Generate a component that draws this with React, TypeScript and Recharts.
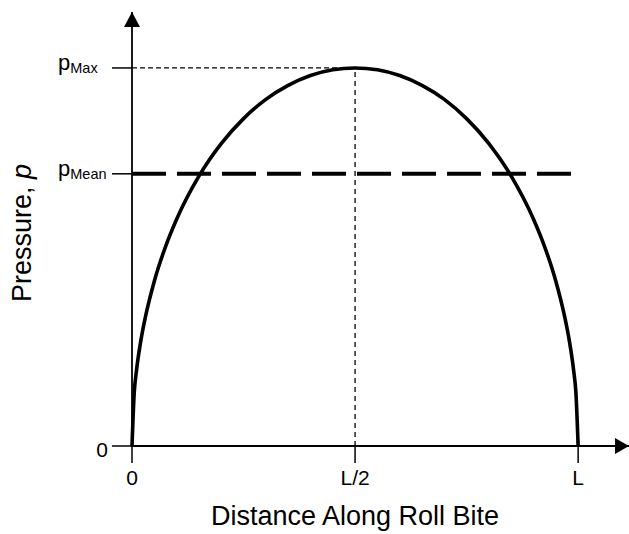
import { ComposedChart, Line, XAxis, YAxis, ReferenceLine, ReferenceDot, Label } from 'recharts';

const FONT = '"Liberation Sans", Arial, sans-serif';

// roll bite length L = 100, peak pressure pMax = 100
const L = 100;
const P_MAX = 100;
const P_MEAN = 72;

const distance = [0, 0.5, 1, 2, 3, 5, 7.5, 10, 15, 20, 25, 30, 35, 40, 45, 50, 55, 60, 65, 70, 75, 80, 85, 90, 92.5, 95, 97, 98, 99, 99.5, 100];
const pressure = [0, 14.1, 19.9, 28, 34.1, 43.6, 52.7, 60, 71.4, 80, 86.6, 91.7, 95.4, 98, 99.5, 100, 99.5, 98, 95.4, 91.7, 86.6, 80, 71.4, 60, 52.7, 43.6, 34.1, 28, 19.9, 14.1, 0];

const xTicks = [0, L / 2, L];
const xTickLabels = ['0', 'L/2', 'L'];
const yTicks = [0, P_MEAN, P_MAX];
const yTickLabels = ['0', 'Mean', 'Max'];

const X_END = 111.4;
const Y_END = 114.8;

const data = distance.map((d, i) => ({ d, p: pressure[i] }));

function XTick(props: any) {
  const { x, y, payload } = props;
  const i = xTicks.indexOf(payload.value);
  return (
    <text x={x} y={y + 22} textAnchor="middle" fontFamily={FONT} fontSize={21} fill="#000">
      {xTickLabels[i]}
    </text>
  );
}

function YTick(props: any) {
  const { x, y, payload } = props;
  const i = yTicks.indexOf(payload.value);
  if (i === 0) {
    return (
      <text x={x - 4} y={y + 11} textAnchor="end" fontFamily={FONT} fontSize={21} fill="#000">
        0
      </text>
    );
  }
  return (
    <text x={x - 54} y={y + 2} textAnchor="start" fontFamily={FONT} fontSize={22} fill="#000">
      p<tspan fontSize={14.5} dy={3.5}>{yTickLabels[i]}</tspan>
    </text>
  );
}

function ArrowRight(props: any) {
  const { cx, cy } = props;
  return <polygon points={`${cx},${cy} ${cx - 14},${cy - 8} ${cx - 14},${cy + 8}`} fill="#000" />;
}

function ArrowUp(props: any) {
  const { cx, cy } = props;
  return <polygon points={`${cx},${cy} ${cx - 8},${cy + 15} ${cx + 8},${cy + 15}`} fill="#000" />;
}

export default function App() {
  return (
    <div style={{ position: 'absolute', left: 0, top: 0, background: '#fff' }}>
      <ComposedChart width={629} height={534} data={data} margin={{ top: 12, right: 0, bottom: 0, left: 0 }}>
        <XAxis
          dataKey="d"
          type="number"
          domain={[0, X_END]}
          ticks={xTicks}
          tick={<XTick />}
          tickSize={17}
          tickMargin={0}
          height={88}
          axisLine={{ stroke: '#000', strokeWidth: 1.8 }}
          tickLine={{ stroke: '#000', strokeWidth: 1.5 }}
        >
          <Label
            content={() => (
              <text x={355} y={525} textAnchor="middle" fontFamily={FONT} fontSize={27} fill="#000">
                Distance Along Roll Bite
              </text>
            )}
          />
        </XAxis>
        <YAxis
          type="number"
          domain={[0, Y_END]}
          ticks={yTicks}
          tick={<YTick />}
          tickSize={20}
          tickMargin={0}
          width={132}
          axisLine={{ stroke: '#000', strokeWidth: 1.8 }}
          tickLine={{ stroke: '#000', strokeWidth: 1.5 }}
        >
          <Label
            content={() => (
              <text
                x={31}
                y={233}
                transform="rotate(-90 31 233)"
                textAnchor="middle"
                fontFamily={FONT}
                fontSize={27}
                fill="#000"
              >
                Pressure, <tspan fontStyle="italic">p</tspan>
              </text>
            )}
          />
        </YAxis>

        {/* guide lines to the peak */}
        <ReferenceLine
          segment={[{ x: 0, y: P_MAX }, { x: L / 2, y: P_MAX }]}
          stroke="#000"
          strokeWidth={1.3}
          strokeDasharray="5 3"
        />
        <ReferenceLine
          segment={[{ x: L / 2, y: 0 }, { x: L / 2, y: P_MAX }]}
          stroke="#000"
          strokeWidth={1.3}
          strokeDasharray="5 4"
        />

        {/* mean pressure */}
        <ReferenceLine
          segment={[{ x: 0, y: P_MEAN }, { x: 98.6, y: P_MEAN }]}
          stroke="#000"
          strokeWidth={4}
          strokeDasharray="34 11"
        />

        <Line
          type="monotone"
          dataKey="p"
          stroke="#000"
          strokeWidth={3.6}
          dot={false}
          activeDot={false}
          isAnimationActive={false}
        />

        <ReferenceDot x={X_END} y={0} r={0} ifOverflow="visible" shape={<ArrowRight />} />
        <ReferenceDot x={0} y={Y_END} r={0} ifOverflow="visible" shape={<ArrowUp />} />
      </ComposedChart>
    </div>
  );
}
